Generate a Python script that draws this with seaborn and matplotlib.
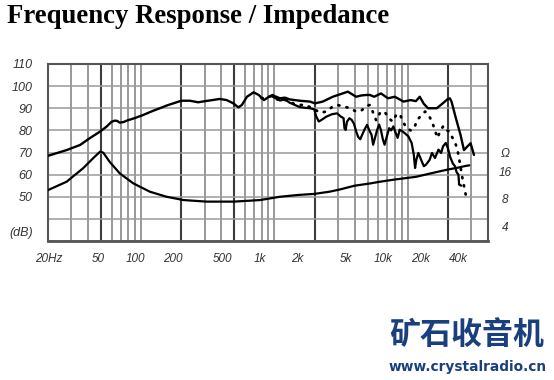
import matplotlib
matplotlib.use("Agg")
import matplotlib.pyplot as plt
from matplotlib.ticker import NullLocator
import seaborn as sns
import pandas as pd

# ---------------- data ----------------
title = "Frequency Response / Impedance"

spl_freq = [20, 27.6, 34.8, 41, 49, 55, 60, 63.4, 66, 69, 74, 78, 90, 104, 120, 138, 155, 174,
            200, 232, 268, 309, 389, 438, 492, 536, 570, 622, 698, 762, 833, 911, 966, 1000,
            1100, 1200, 1300, 1550, 1850, 2010, 2300, 2740, 3250, 3550, 4100, 4500, 4900,
            5200, 5600, 6300, 7100, 8000, 9300, 10500, 11500, 12300, 13200, 14200, 16500,
            18300, 19800, 20700, 21300, 22800, 24900, 26400, 27900, 29600, 31400]
spl_db = [68.5, 71.1, 73.4, 76.4, 79.4, 81.7, 83.9, 84.4, 84.3, 83.5, 83.8, 84.4, 85.6, 87.0,
          88.6, 90.0, 91.2, 92.2, 93.4, 93.4, 92.7, 93.3, 94.2, 93.7, 92.2, 90.4, 91.5, 95.2,
          97.2, 96.0, 93.7, 95.2, 96.0, 95.5, 94.5, 94.8, 94.0, 93.4, 93.0, 92.2, 93.0, 95.2,
          96.7, 97.5, 95.2, 95.8, 96.0, 96.0, 95.2, 96.7, 94.5, 95.2, 93.0, 93.7, 93.2, 95.2,
          92.0, 90.0, 90.0, 92.2, 94.0, 94.5, 93.0, 86.2, 77.9, 71.1, 72.6, 74.2, 68.9]

dot_freq = [800, 950, 1050, 1150, 1250, 1400, 1550, 1700, 1850, 2000, 2200, 2450, 2700, 2950,
            3300, 3700, 4100, 4500, 4900, 5200, 5500, 5800, 6200, 6700, 7200, 7700, 8200,
            8700, 9200, 9800, 10500, 11200, 11700, 12500, 13500, 14300, 15200, 16000, 16700,
            17500, 18500, 19500, 20500, 21500, 22500, 23400, 24000, 24800, 25600, 26400, 27200]
dot_db = [94.5, 95.5, 94.0, 93.5, 93.8, 92.0, 91.5, 91.5, 90.5, 89.5, 88.0, 88.5, 90.5, 91.5,
          90.8, 90.0, 88.5, 89.0, 91.0, 91.5, 88.0, 84.5, 88.0, 88.5, 85.5, 84.0, 87.0, 87.5,
          84.0, 81.0, 80.0, 81.0, 84.5, 86.5, 88.5, 87.0, 84.0, 80.0, 76.6, 79.6, 82.0, 80.0,
          79.6, 77.0, 75.0, 72.0, 69.0, 64.0, 59.0, 55.0, 51.0]

low_freq = [950, 1100, 1200, 1300, 1420, 1550, 1700, 1850, 1990, 2050, 2150, 2250, 2450, 2700,
            2950, 3150, 3300, 3350, 3420, 3500, 3650, 3800, 3950, 4100, 4250, 4400, 4550,
            4750, 4950, 5150, 5350, 5500, 5700, 5900, 6100, 6300, 6500, 6700, 6950, 7250,
            7500, 7800, 8100, 8400, 8700, 9100, 9600, 10100, 10700, 11100, 11350, 11600,
            12000, 12600, 13200, 13700, 14600, 15200, 16000, 17000, 17800, 18400, 19300,
            20000, 20800, 21800, 22600, 23300, 24000, 24300, 25200]
low_db = [95.5, 93.5, 94.0, 92.5, 91.5, 90.5, 90.2, 90.0, 89.5, 86.5, 84.0, 84.7, 86.2, 87.3,
          87.7, 86.2, 85.5, 81.0, 80.2, 83.9, 85.5, 84.7, 83.0, 79.5, 77.0, 76.0, 78.0, 80.5,
          82.5, 80.0, 78.0, 73.5, 77.0, 80.3, 82.6, 80.0, 76.0, 73.5, 77.0, 81.0, 80.0, 81.8,
          79.0, 76.6, 80.3, 79.6, 78.5, 77.3, 74.3, 69.0, 63.0, 66.7, 69.8, 66.7, 63.8, 64.5,
          66.7, 69.8, 67.5, 71.3, 69.8, 72.8, 74.3, 72.0, 68.0, 65.0, 63.8, 61.0, 60.0, 55.5,
          55.0]

imp_freq = [20, 27.6, 36.7, 43.6, 49.2, 52, 58, 69, 87, 116, 155, 208, 310, 494, 780, 1100,
            1500, 2000, 2600, 3100, 4000, 5200, 6200, 8000, 11500, 16000, 20000, 24000,
            27000, 29000]
imp_db = [53.0, 56.8, 62.9, 67.4, 70.4, 69.9, 65.8, 60.6, 56.1, 52.3, 50.0, 48.5, 47.8, 47.8,
          48.5, 50.0, 50.8, 51.3, 52.3, 53.3, 55.0, 56.0, 56.8, 57.8, 59.0, 61.0, 62.3, 63.2,
          63.9, 64.2]

y_ticks = [110, 100, 90, 80, 70, 60, 50]
db_label_pos = 34.5
x_label_freqs = [20, 50, 100, 200, 500, 1000, 2000, 5000, 10000, 20000, 40000]
x_labels = ["20Hz", "50", "100", "200", "500", "1k", "2k", "5k", "10k", "20k", "40k"]
grid_x = [20, 30, 40, 50, 60, 70, 80, 90, 100, 200, 300, 400, 500, 600, 700, 800, 900,
          1000, 2000, 3000, 4000, 5000, 6000, 7000, 8000, 9000, 10000, 20000, 30000, 40000]
grid_x_dark = [50, 200, 500, 2000, 20000]
grid_y = [30, 40, 50, 60, 70, 80, 90, 100, 110]
ohm_labels = ["Ω", "16", "8", "4"]

# ---------------- figure ----------------
sns.set_theme(style="white")
plt.rcParams['font.family'] = ['Liberation Sans', 'DejaVu Sans']

W, H = 554, 380
fig = plt.figure(figsize=(W / 100, H / 100), dpi=100)
fig.patch.set_facecolor("white")

ax = fig.add_axes([48 / W, 1 - 241 / H, 440 / W, 177 / H])
ax.set_xscale("log")
ax.set_xlim(20, 40000)
ax.set_ylim(30, 110)
ax.set_facecolor("white")

for gx in grid_x:
    dark = gx in grid_x_dark
    ax.axvline(gx, color="#3c3c3c" if dark else "#7d7d7d", lw=1.5 if dark else 1.1, zorder=1)
for gy in grid_y:
    ax.axhline(gy, color="#9a9a9a", lw=1.1, zorder=1)

df_spl = pd.DataFrame({"f": spl_freq, "db": spl_db})
df_dot = pd.DataFrame({"f": dot_freq, "db": dot_db})
df_low = pd.DataFrame({"f": low_freq, "db": low_db})
df_imp = pd.DataFrame({"f": imp_freq, "db": imp_db})

sns.lineplot(data=df_imp, x="f", y="db", ax=ax, color="black", lw=1.6, sort=False,
             estimator=None, zorder=3)
sns.lineplot(data=df_low, x="f", y="db", ax=ax, color="black", lw=1.6, sort=False,
             estimator=None, zorder=3)
sns.lineplot(data=df_dot, x="f", y="db", ax=ax, color="black", lw=2.0, sort=False,
             estimator=None, zorder=3)
ax.lines[-1].set_linestyle((0, (0.4, 2.6)))
ax.lines[-1].set_dash_capstyle("round")
sns.lineplot(data=df_spl, x="f", y="db", ax=ax, color="black", lw=1.7, sort=False,
             estimator=None, zorder=4)

ax.set_xlabel("")
ax.set_ylabel("")
ax.set_xticks([])
ax.xaxis.set_minor_locator(NullLocator())
ax.set_yticks(y_ticks + [db_label_pos])
ax.set_yticklabels([str(v) for v in y_ticks] + ["(dB)"])
ax.yaxis.set_minor_locator(NullLocator())
ax.tick_params(axis="y", length=0, pad=11, labelsize=9, labelcolor="#333333")
for lab in ax.get_yticklabels():
    lab.set_fontstyle("italic")
for side, sp in ax.spines.items():
    sp.set_visible(True)
    sp.set_color("#555555")
    sp.set_linewidth(1.5)
ax.spines["bottom"].set_linewidth(2.0)

# axis carrying the frequency labels (slightly compressed as in the original)
ax2 = fig.add_axes([49 / W, 1 - 241 / H, 409 / W, 177 / H])
ax2.set_xscale("log")
ax2.set_xlim(20, 40000)
ax2.patch.set_visible(False)
for sp in ax2.spines.values():
    sp.set_visible(False)
ax2.set_yticks([])
ax2.set_xticks(x_label_freqs)
ax2.set_xticklabels(x_labels)
ax2.xaxis.set_minor_locator(NullLocator())
ax2.tick_params(axis="x", length=0, pad=9, labelsize=8.5, labelcolor="#333333")
for lab in ax2.get_xticklabels():
    lab.set_fontstyle("italic")

# impedance labels on the right
for txt, ypx in zip(ohm_labels, [154, 173, 200, 228]):
    fig.text(505 / W, 1 - ypx / H, txt, ha="center", va="center", fontsize=8.5,
             fontstyle="italic", color="#333333")

fig.text(7 / W, 1 - 23 / H, title, family="Liberation Serif", weight="bold",
         fontsize=19.3, color="black", va="baseline", ha="left")

blue = "#1a3f7e"
fig.text(389 / W, 1 - 351 / H, "矿石收音机", family=["Noto Sans CJK SC", "DejaVu Sans"],
         weight="heavy", fontsize=22.3, color=blue, va="bottom", ha="left")
fig.text(389 / W, 1 - 371 / H, "www.crystalradio.cn", family="DejaVu Sans", weight="bold",
         fontsize=9.9, color=blue, va="baseline", ha="left")

fig.savefig("out.png", dpi=100, facecolor="white")
